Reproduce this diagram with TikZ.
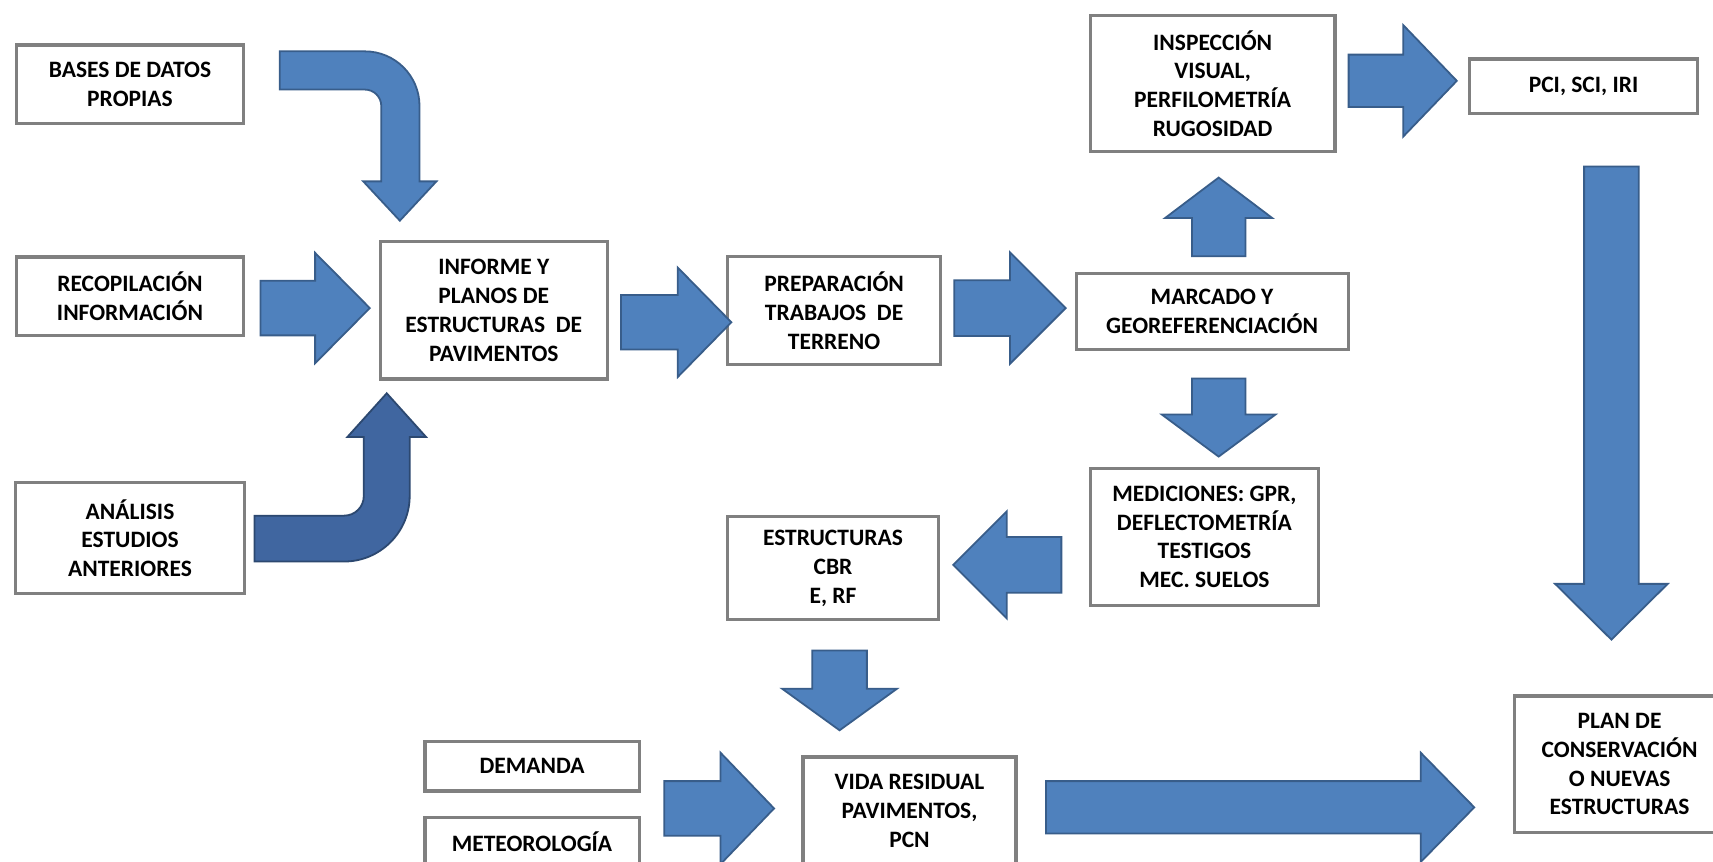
\documentclass[tikz,border=0pt]{standalone}
\usepackage{fontspec}
\setmainfont{Carlito}
\usetikzlibrary{calc}

\definecolor{azul}{RGB}{79,129,189}
\definecolor{azulosc}{RGB}{56,93,138}
\definecolor{azulfuerte}{RGB}{64,102,160}
\definecolor{bordeosc}{RGB}{44,72,112}
\definecolor{borde}{RGB}{128,128,128}

\tikzset{
  caja/.style={draw=borde, line width=3.2pt, fill=white, align=center, inner sep=0pt,
    font=\bfseries\fontsize{23.5}{28.8}\selectfont},
  tam/.style 2 args={minimum width=#1*1.0925pt, minimum height=#2*1.0925pt},
  bloque/.style={fill=azul, draw=azulosc, line width=1.8pt},
  bloqueosc/.style={bloque, fill=azulfuerte, draw=bordeosc},
  % flecha gruesa: largo, medio ancho del cuerpo, medio ancho de la punta, largo de la punta
  pics/flecha/.style n args={4}{code={
      \filldraw[bloque] (0,-#2) -- ({#1-#4},-#2) -- ({#1-#4},-#3) -- (#1,0)
        -- ({#1-#4},#3) -- ({#1-#4},#2) -- (0,#2) -- cycle;
  }},
}

\begin{document}
\begin{tikzpicture}[x=1.0925pt, y=-1.0925pt]
  \useasboundingbox (0,0) rectangle (1568,789);
  \clip (0,0) rectangle (1568,789);
  \fill[white] (0,0) rectangle (1568,789);

  % Entradas a la izquierda
  \node[caja, tam={208}{71.5}] (bases) at (119,77) {BASES DE DATOS\\PROPIAS};
  \node[caja, tam={208}{71.5}] (recop) at (119,271) {RECOPILACIÓN\\INFORMACIÓN};
  \node[caja, tam={209}{101}] (anal) at (119,492.5) {ANÁLISIS\\ESTUDIOS\\ANTERIORES};

  % Cadena principal
  \node[caja, tam={208}{126}] (inf) at (452,284) {INFORME Y\\PLANOS DE\\ESTRUCTURAS\ \ DE\\PAVIMENTOS};
  \node[caja, tam={195}{99}] (prep) at (763.5,284.5) {PREPARACIÓN\\TRABAJOS\ \ DE\\TERRENO};
  \node[caja, tam={249}{70}] (marc) at (1109.5,285) {MARCADO Y\\GEOREFERENCIACIÓN};
  \node[caja, tam={224}{125}] (insp) at (1110,76.5) {INSPECCIÓN\\VISUAL,\\PERFILOMETRÍA\\RUGOSIDAD};
  \node[caja, tam={209}{50}] (pci) at (1449.5,79) {PCI, SCI, IRI};
  \node[caja, tam={209}{125}] (med) at (1102.5,491.5) {MEDICIONES: GPR,\\DEFLECTOMETRÍA\\TESTIGOS\\MEC. SUELOS};
  \node[caja, tam={193}{94}] (estr) at (762.5,520) {ESTRUCTURAS\\CBR\\E, RF};

  % Parte de abajo
  \node[caja, tam={196}{45}] (dem) at (487,701.5) {DEMANDA};
  \node[caja, tam={196}{45}] (meteo) at (487,770.5) {METEOROLOGÍA};
  \node[caja, tam={195}{98}] (vida) at (832.5,742) {VIDA RESIDUAL\\PAVIMENTOS,\\PCN};
  \node[caja, tam={193}{125}] (plan) at (1482.5,699.5) {PLAN DE\\CONSERVACIÓN\\O NUEVAS\\ESTRUCTURAS};

  % Flechas curvas hacia el informe
  \filldraw[bloque] (256,47) -- (334,47) .. controls (361.6,47) and (384,69.4) .. (384,97)
    -- (384,166) -- (399.5,166) -- (366,202) -- (332.5,166) -- (349,166) -- (349,97)
    .. controls (349,88.7) and (342.3,82) .. (334,82) -- (256,82) -- cycle;
  \filldraw[bloqueosc] (233,472) -- (315,472) .. controls (325,472) and (333,464) .. (333,454)
    -- (333,400) -- (318,400) -- (354,360) -- (390,400) -- (375,400) -- (375,454)
    .. controls (375,487) and (348,514) .. (315,514) -- (233,514) -- cycle;

  % Flechas rectas
  \pic at ($(recop.east)+(14,11)$) {flecha={100}{25}{50.5}{50}};
  \pic at ($(inf.east)+(11,11)$) {flecha={101}{25}{50}{49}};
  \pic at ($(prep.east)+(11,-2.5)$) {flecha={102}{25.5}{51}{51}};
  \pic[rotate=90] at ($(marc.north)+(6,-14)$) {flecha={72}{24.5}{49}{37}};
  \pic[rotate=-90] at ($(marc.south)+(6,25)$) {flecha={71.5}{24.5}{52}{38.5}};
  \pic at ($(insp.east)+(11,-2.5)$) {flecha={99}{24}{51}{49}};
  \pic[rotate=-90] at ($(pci.south)+(25.5,47)$) {flecha={433}{25}{51.5}{51}};
  \pic[rotate=180] at ($(med.west)+(-25,25.5)$) {flecha={99}{25.5}{49}{49}};
  \pic[rotate=-90] at ($(estr.south)+(6,27)$) {flecha={73}{25}{52.5}{38}};
  \pic at ($(vida.west)+(-125.5,-2)$) {flecha={100.5}{25}{51}{49}};
  \pic at ($(vida.east)+(26,-3)$) {flecha={392}{24}{50}{49}};
\end{tikzpicture}
\end{document}
